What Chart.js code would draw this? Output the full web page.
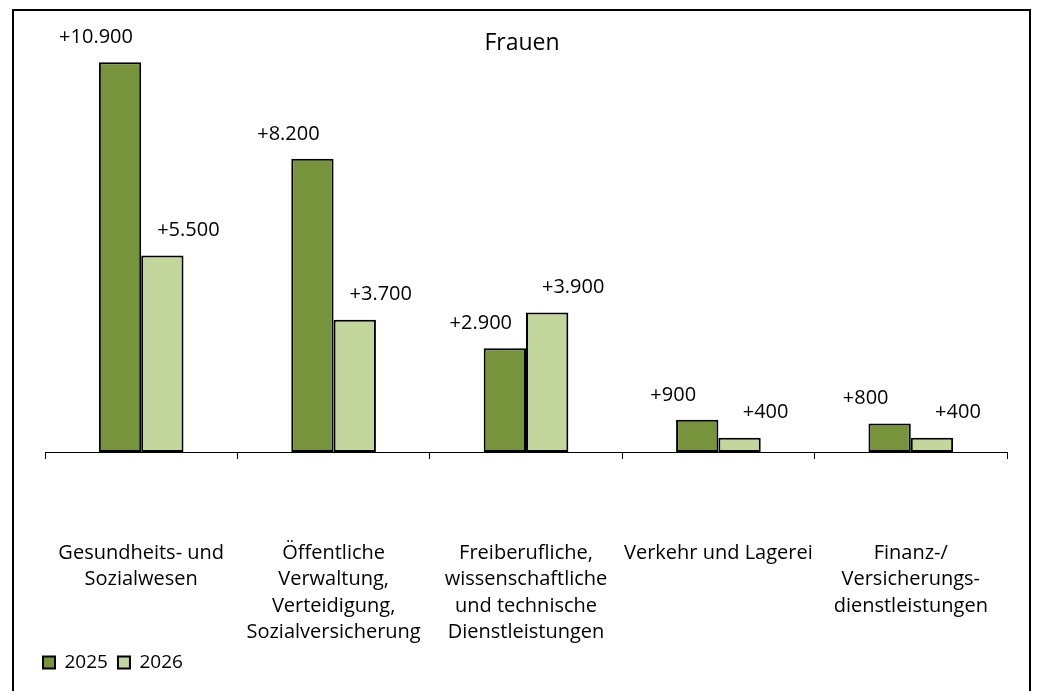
<!DOCTYPE html>
<html>
<head>
<meta charset="utf-8">
<title>Frauen</title>
<script src="https://cdn.jsdelivr.net/npm/chart.js@4"></script>
<style>
  html, body { margin: 0; padding: 0; background: #fff; }
  #chart { display: block; }
</style>
</head>
<body>
<canvas id="chart" width="1038" height="691"></canvas>
<script>
// Data
const chartTitle = 'Frauen';
const categories = [
    ['Gesundheits- und', 'Sozialwesen'],
    ['Öffentliche', 'Verwaltung,', 'Verteidigung,', 'Sozialversicherung'],
    ['Freiberufliche,', 'wissenschaftliche', 'und technische', 'Dienstleistungen'],
    ['Verkehr und Lagerei'],
    ['Finanz-/', 'Versicherungs-', 'dienstleistungen']
];
const values2025 = [10900, 8200, 2900, 900, 800];
const values2026 = [5500, 3700, 3900, 400, 400];

const FONT = '"Open Sans", "Noto Sans", sans-serif';

function formatPlus(v) {
    const s = String(Math.abs(v)).replace(/\B(?=(\d{3})+(?!\d))/g, '.');
    return (v >= 0 ? '+' : '-') + s;
}

// value labels above the bars, pushed a little to the side like in the original
const valueLabels = {
    id: 'valueLabels',
    afterDatasetsDraw: function(chart) {
        const ctx = chart.ctx;
        const shift = [-24, 26];
        ctx.save();
        ctx.font = '20px ' + FONT;
        ctx.fillStyle = '#000';
        ctx.textAlign = 'center';
        ctx.textBaseline = 'middle';
        chart.data.datasets.forEach(function(ds, di) {
            const meta = chart.getDatasetMeta(di);
            meta.data.forEach(function(bar, i) {
                ctx.fillText(formatPlus(ds.data[i]), bar.x + shift[di], bar.y - 25);
            });
        });
        ctx.restore();
    }
};

// frame and title drawn inside the plot area
const frameAndTitle = {
    id: 'frameAndTitle',
    beforeDraw: function(chart) {
        const ctx = chart.ctx;
        ctx.save();
        ctx.fillStyle = '#fff';
        ctx.fillRect(0, 0, chart.width, chart.height);
        ctx.strokeStyle = '#000';
        ctx.lineWidth = 2;
        ctx.strokeRect(13, 10, 1017, 700);
        ctx.restore();
    },
    afterDraw: function(chart) {
        const ctx = chart.ctx;
        ctx.save();
        ctx.font = '23px ' + FONT;
        ctx.fillStyle = '#000';
        ctx.textAlign = 'center';
        ctx.textBaseline = 'middle';
        ctx.fillText(chartTitle, 522, 43);
        ctx.restore();
    }
};

const ctx = document.getElementById('chart').getContext('2d');
new Chart(ctx, {
    type: 'bar',
    data: {
        labels: categories,
        datasets: [{
            label: '2025',
            data: values2025,
            backgroundColor: '#77933C',
            borderColor: '#000',
            borderWidth: 2,
            borderSkipped: false
        }, {
            label: '2026',
            data: values2026,
            backgroundColor: '#C3D69B',
            borderColor: '#000',
            borderWidth: 2,
            borderSkipped: false
        }]
    },
    options: {
        responsive: false,
        animation: false,
        layout: {
            padding: { left: 33, right: 31, top: 23, bottom: 9 }
        },
        datasets: {
            bar: {
                categoryPercentage: 0.44,
                barPercentage: 1.0
            }
        },
        scales: {
            x: {
                grid: {
                    display: true,
                    drawOnChartArea: false,
                    drawTicks: true,
                    tickLength: 7,
                    color: '#000',
                    offset: true
                },
                border: { display: true, color: '#000', width: 1 },
                ticks: {
                    color: '#000',
                    padding: 81,
                    maxRotation: 0,
                    autoSkip: false,
                    font: { family: FONT, size: 20, lineHeight: 1.32 }
                },
                afterFit: function(scale) {
                    scale.height = 191;
                    scale.paddingLeft = 0;
                    scale.paddingRight = 0;
                }
            },
            y: {
                min: 0,
                max: 12000,
                grid: { display: false },
                border: { display: false },
                ticks: { display: false },
                afterFit: function(scale) { scale.width = 12; }
            }
        },
        plugins: {
            legend: {
                position: 'bottom',
                align: 'start',
                labels: {
                    boxWidth: 12,
                    boxHeight: 12,
                    padding: 10,
                    color: '#000',
                    font: { family: FONT, size: 19 }
                }
            },
            title: { display: false },
            tooltip: { enabled: false }
        }
    },
    plugins: [frameAndTitle, valueLabels]
});
</script>
</body>
</html>
